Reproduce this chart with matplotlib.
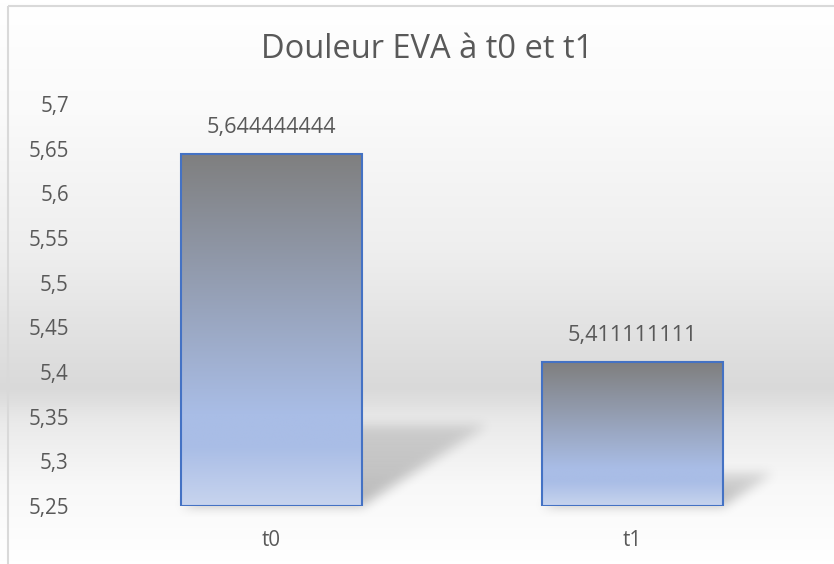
import numpy as np
import matplotlib
matplotlib.use("Agg")
import matplotlib.pyplot as plt
from matplotlib.path import Path
from matplotlib.colors import LinearSegmentedColormap, to_rgb

# ---- data ----
categories = ["t0", "t1"]
values = [5.644444444, 5.411111111]
value_labels = ["5,644444444", "5,411111111"]
yticks = [5.25, 5.30, 5.35, 5.40, 5.45, 5.50, 5.55, 5.60, 5.65, 5.70]
ytick_labels = ["5,25", "5,3", "5,35", "5,4", "5,45", "5,5", "5,55", "5,6", "5,65", "5,7"]
title = "Douleur EVA à t0 et t1"
ymin, ymax = 5.25, 5.70

plt.rcParams['font.family'] = ['Open Sans', 'DejaVu Sans']
TXT = '#595959'

W, H = 834, 564
fig = plt.figure(figsize=(W / 100, H / 100), dpi=100)

# ---- background gradient ----
bg = fig.add_axes([0, 0, 1, 1], zorder=0)
bg.set_axis_off()
bg.set_xlim(0, W)
bg.set_ylim(0, H)
stops = [(0.0, '#ffffff'), (0.2, '#fafafa'), (0.45, '#eeeeee'), (0.69, '#d9d9d9'),
         (0.75, '#eaeaea'), (0.86, '#f8f8f8'), (1.0, '#ffffff')]
bcmap = LinearSegmentedColormap.from_list('bg', stops)
grad = np.linspace(0, 1, H).reshape(-1, 1)
bg.imshow(bcmap(grad)[:, :, :3] * np.ones((1, W, 1)), extent=[0, W, 0, H],
          origin='upper', aspect='auto', interpolation='bilinear')

# border (top and left)
bg.plot([8, W], [H - 5.5, H - 5.5], color='#d9d9d9', lw=1.5, solid_capstyle='butt')
bg.plot([8, 8], [0, H - 5.5], color='#d9d9d9', lw=1.5, solid_capstyle='butt')

# ---- main axes ----
L, R, T, B = 91, 813, 104, 506
ax = fig.add_axes([L / W, 1 - B / H, (R - L) / W, (B - T) / H], zorder=1)
ax.set_facecolor('none')
for s in ax.spines.values():
    s.set_visible(False)

x = np.arange(len(categories))
bars = ax.bar(x, [v - ymin for v in values], bottom=ymin, width=0.5,
              facecolor='none', edgecolor='#4472c4', linewidth=1.5, zorder=4)
ax.set_xlim(-0.5, len(categories) - 0.5)
ax.set_ylim(ymin, ymax)

# bar gradient fill
bar_stops = [(0.0, '#c7d4ee'), (0.17, '#a9bde6'), (0.26, '#a9bde6'), (1.0, '#7f7f7f')]
barcmap = LinearSegmentedColormap.from_list('bar', bar_stops)
g = np.linspace(0, 1, 256).reshape(-1, 1)
for b in bars:
    x0, y0 = b.get_x(), b.get_y()
    im = ax.imshow(g, cmap=barcmap, extent=[x0, x0 + b.get_width(), y0, y0 + b.get_height()],
                   origin='lower', aspect='auto', zorder=3, interpolation='bilinear')
    clip = plt.Rectangle((x0, y0), b.get_width(), b.get_height(), transform=ax.transData,
                         facecolor='none', edgecolor='none')
    ax.add_patch(clip)
    im.set_clip_path(clip)
ax.set_xlim(-0.5, len(categories) - 0.5)
ax.set_ylim(ymin, ymax)

# ---- perspective shadows (computed from bar geometry) ----
def box_blur(a, r, axis):
    pad = [(0, 0), (0, 0)]
    pad[axis] = (r + 1, r)
    p = np.pad(a, pad, mode='edge')
    c = np.cumsum(p, axis=axis)
    n = a.shape[axis]
    if axis == 0:
        return (c[2 * r + 1:2 * r + 1 + n] - c[:n]) / (2 * r + 1)
    return (c[:, 2 * r + 1:2 * r + 1 + n] - c[:, :n]) / (2 * r + 1)

yy, xx = np.mgrid[0:H, 0:W]
pts = np.column_stack([xx.ravel() + 0.5, yy.ravel() + 0.5])
alpha_map = np.zeros((H, W))
scale, shear = 0.23, 1.55
for b in bars:
    (px0, pyb), (px1, pyt) = ax.transData.transform(
        [(b.get_x(), b.get_y()), (b.get_x() + b.get_width(), b.get_y() + b.get_height())])
    sh = (pyt - pyb) * scale
    dx = sh * shear
    poly = Path([(px0, pyb), (px1, pyb), (px1 + dx, pyb + sh), (px0 + dx, pyb + sh), (px0, pyb)])
    inside = poly.contains_points(pts).reshape(H, W).astype(float)
    fade = np.clip(1 - 0.5 * (yy + 0.5 - pyb) / max(sh, 1), 0, 1)
    alpha_map = np.maximum(alpha_map, inside * fade)
for _ in range(3):
    alpha_map = box_blur(alpha_map, 5, 0)
    alpha_map = box_blur(alpha_map, 5, 1)
shadow = np.zeros((H, W, 4))
shadow[..., 3] = alpha_map * 0.26
bg.imshow(shadow, extent=[0, W, 0, H], origin='lower', aspect='auto', zorder=2,
          interpolation='bilinear')
bg.set_xlim(0, W)
bg.set_ylim(0, H)

# ---- ticks & labels ----
ax.set_yticks(yticks)
ax.set_yticklabels(ytick_labels)
ax.set_xticks(x)
ax.set_xticklabels(categories)
ax.tick_params(axis='y', length=0, pad=16, labelsize=14.8, labelcolor=TXT)
ax.tick_params(axis='x', length=0, pad=17, labelsize=14.8, labelcolor=TXT)

for xi, v, lab in zip(x, values, value_labels):
    ax.annotate(lab, (xi, v), xytext=(0, 19), textcoords='offset points',
                ha='center', va='center', fontsize=15.6, color=TXT, zorder=5)

fig.text(427 / W, 1 - 50 / H, title, ha='center', va='center', fontsize=23.5, color=TXT)

fig.savefig('out.png', dpi=100)
